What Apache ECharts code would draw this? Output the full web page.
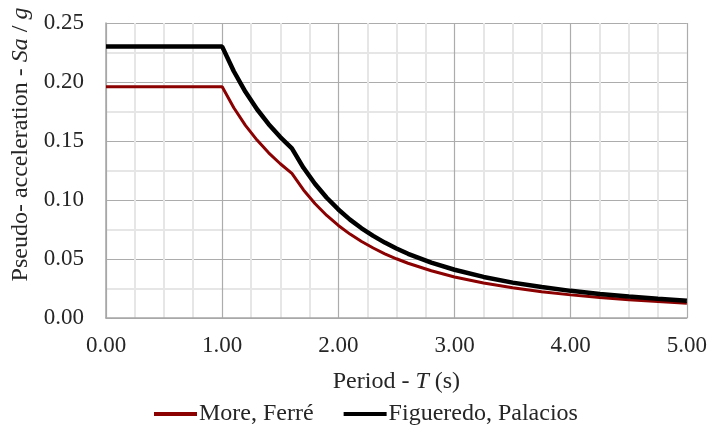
<!DOCTYPE html>
<html>
<head>
<meta charset="utf-8">
<script src="https://cdn.jsdelivr.net/npm/echarts@6/dist/echarts.min.js"></script>
<style>html,body{margin:0;padding:0;background:#fff}#c{width:710px;height:428px}</style>
</head>
<body>
<div id="c"></div>
<script>
const periods = [0, 1.0, 1.1, 1.2, 1.3, 1.4, 1.5, 1.6, 1.7, 1.8, 1.9, 2.0, 2.1, 2.2, 2.3, 2.4, 2.5, 2.6, 2.8, 3.0, 3.25, 3.5, 3.75, 4.0, 4.25, 4.5, 4.75, 5.0];
const moreFerre = [0.196, 0.196, 0.1782, 0.1633, 0.1508, 0.1400, 0.1307, 0.1225, 0.1085, 0.0968, 0.0869, 0.0784, 0.0711, 0.0648, 0.0593, 0.0544, 0.0502, 0.0464, 0.0400, 0.0348, 0.0297, 0.0256, 0.0223, 0.0196, 0.0174, 0.0155, 0.0139, 0.0125];
const figueredoPalacios = [0.230, 0.230, 0.2091, 0.1917, 0.1769, 0.1643, 0.1533, 0.1438, 0.1273, 0.1136, 0.1019, 0.0920, 0.0834, 0.0760, 0.0696, 0.0639, 0.0589, 0.0544, 0.0469, 0.0409, 0.0348, 0.0300, 0.0262, 0.0230, 0.0204, 0.0182, 0.0163, 0.0147];
const seriesNames = ['More, Ferré', 'Figueredo, Palacios'];

const font = 'Liberation Serif';
const txt = '#262626';
const chart = echarts.init(document.getElementById('c'));
const pair = (ys) => periods.map((t, i) => [t, ys[i]]);
chart.setOption({
  animation: false,
  grid: { left: 106, right: 21, top: 23, bottom: 110 },
  xAxis: {
    type: 'value', min: 0, max: 5, interval: 1,
    name: 'Period - {i|T} (s)', nameLocation: 'middle', nameGap: 52,
    nameTextStyle: { fontFamily: font, fontSize: 24, color: txt,
      rich: { i: { fontFamily: font, fontSize: 24, fontStyle: 'italic', color: txt } } },
    axisLine: { show: true, lineStyle: { color: '#a6a6a6', width: 1.5 } },
    axisTick: { show: false },
    axisLabel: { fontFamily: font, fontSize: 23, color: txt, margin: 16, formatter: v => v.toFixed(2) },
    splitLine: { show: true, lineStyle: { color: '#acacac', width: 1.2 } },
    minorTick: { show: false, splitNumber: 4 },
    minorSplitLine: { show: true, lineStyle: { color: '#e6e6e6', width: 2 } }
  },
  yAxis: {
    type: 'value', min: 0, max: 0.25, interval: 0.05,
    name: 'Pseudo- acceleration - {i|Sa} / {i|g}', nameLocation: 'middle', nameGap: 68,
    nameTextStyle: { fontFamily: font, fontSize: 24, color: txt, padding: [0, 0, 0, 52],
      rich: { i: { fontFamily: font, fontSize: 24, fontStyle: 'italic', color: txt } } },
    axisLine: { show: true, lineStyle: { color: '#a6a6a6', width: 1.5 } },
    axisTick: { show: false },
    axisLabel: { fontFamily: font, fontSize: 23, color: txt, margin: 22, formatter: v => v.toFixed(2) },
    splitLine: { show: true, lineStyle: { color: '#acacac', width: 1.2 } },
    minorTick: { show: false, splitNumber: 2 },
    minorSplitLine: { show: true, lineStyle: { color: '#e6e6e6', width: 2 } }
  },
  legend: {
    left: 149, top: 397, itemWidth: 43, itemHeight: 4, itemGap: 30, icon: 'rect',
    textStyle: { fontFamily: font, fontSize: 24, color: txt, padding: [0, 0, 0, -3] },
    data: seriesNames
  },
  series: [
    { name: seriesNames[0], type: 'line', data: pair(moreFerre), showSymbol: false, symbol: 'none',
      lineStyle: { color: '#8b0000', width: 3 }, itemStyle: { color: '#8b0000' }, z: 3 },
    { name: seriesNames[1], type: 'line', data: pair(figueredoPalacios), showSymbol: false, symbol: 'none',
      lineStyle: { color: '#000000', width: 4.5 }, itemStyle: { color: '#000000' }, z: 4 }
  ]
});
</script>
</body>
</html>
